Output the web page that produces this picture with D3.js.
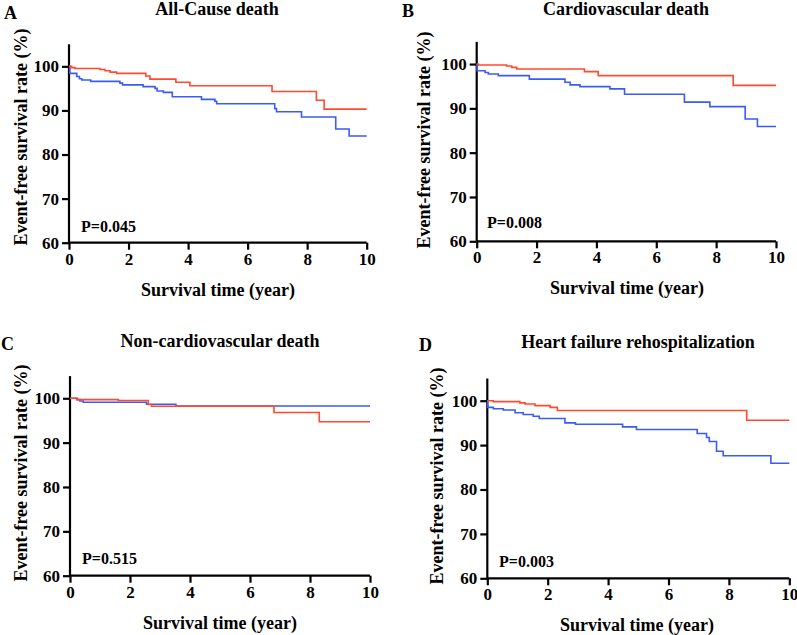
<!DOCTYPE html>
<html><head><meta charset="utf-8">
<script src="https://cdn.jsdelivr.net/npm/d3@7"></script>
<style>
html,body{margin:0;padding:0;background:#fff;}
svg text{font-family:"Liberation Serif","Times New Roman",serif;font-weight:bold;fill:#000;}
</style></head>
<body>
<svg id="chart" width="797" height="635"></svg>
<script>
// ---- data ----
const panelLetters = ["A","B","C","D"];
const panelTitles = ["All-Cause death","Cardiovascular death","Non-cardiovascular death","Heart failure rehospitalization"];
const pValues = ["P=0.045","P=0.008","P=0.515","P=0.003"];
const xTicks = [0,2,4,6,8,10];
const yTicks = [60,70,80,90,100];
const xTitle = "Survival time (year)";
const yTitle = "Event-free survival rate (%)";

const timeA_red  = [0,0.09,0.2,1.04,1.21,1.38,1.6,2.58,2.72,3.59,4.06,6.82,8.31,8.57,10];
const survA_red  = [100,99.7,99.5,99.3,99.0,98.7,98.4,97.8,97.1,96.4,95.6,94.3,92.3,90.3,90.3];
const timeA_blue = [0,0.03,0.26,0.35,0.43,0.73,1.71,1.80,2.49,2.89,2.96,3.17,3.47,4.45,4.9,4.96,6.91,6.97,7.81,8.96,9.41,10];
const survA_blue = [100,98.4,97.7,97.2,96.9,96.6,96.2,95.8,95.4,95.0,94.4,94.1,93.1,92.5,92.1,91.5,90.4,89.7,88.5,85.8,84.2,84.2];

const timeB_red  = [0,0.06,1.0,1.17,1.34,3.6,4.06,8.57,10];
const survB_red  = [100,99.8,99.55,99.25,98.9,98.3,97.4,95.2,95.2];
const timeB_blue = [0,0.01,0.28,0.39,0.72,1.76,2.95,3.12,3.45,4.45,4.94,6.94,7.79,8.97,9.38,10];
const survB_blue = [100,98.5,98.1,97.75,97.4,96.6,95.9,95.3,94.9,94.4,93.2,91.4,90.4,87.6,85.9,85.9];

const timeC_red  = [0,0.22,1.61,2.61,2.72,6.8,8.31,10];
const survC_red  = [100,99.7,99.5,98.6,98.2,96.8,94.7,94.7];
const timeC_blue = [0,0.25,0.33,0.44,2.55,3.53,10];
const survC_blue = [100,99.7,99.4,99.1,98.65,98.25,98.25];

const timeD_red  = [0,0.2,1.08,1.25,1.58,2.08,2.32,8.59,10];
const survD_red  = [100,99.8,99.5,99.25,98.9,98.5,97.8,95.6,95.6];
const timeD_blue = [0,0.01,0.2,0.53,0.92,1.19,1.52,1.72,2.57,2.92,4.48,4.94,6.95,7.26,7.35,7.59,7.81,9.39,10];
const survD_blue = [100,98.5,98.2,97.9,97.3,96.9,96.5,96.0,95.0,94.7,94.1,93.5,92.6,91.7,90.8,88.6,87.6,85.9,85.9];

const redTimes = [timeA_red,timeB_red,timeC_red,timeD_red];
const redSurv = [survA_red,survB_red,survC_red,survD_red];
const blueTimes = [timeA_blue,timeB_blue,timeC_blue,timeD_blue];
const blueSurv = [survA_blue,survB_blue,survC_blue,survD_blue];

// ---- layout ----
const RED = "#ff4a2e", BLUE = "#3a5cf5";
const layouts = [
  {x0:69, x1:366.7, yb:242.7, yt:44.3, letter:[4,19], title:[217,15], ytitle:[21,137], xtitle:[218,296], p:[81,232]},
  {x0:476.7, x1:776, yb:241.3, yt:41.9, letter:[402,17], title:[626,15], ytitle:[424,140], xtitle:[627,294], p:[487,228]},
  {x0:70, x1:370, yb:575.7, yt:376.1, letter:[1,350], title:[220,347], ytitle:[21,473], xtitle:[220,629], p:[82,564]},
  {x0:487.3, x1:789.3, yb:578.3, yt:378.5, letter:[419,351], title:[638,348], ytitle:[437,476], xtitle:[637,631], p:[499,567]}
];

const svg = d3.select("#chart");

layouts.forEach((L,i)=>{
  const g = svg.append("g");
  const x = d3.scaleLinear().domain([0,10]).range([L.x0,L.x1]);
  const y = d3.scaleLinear().domain([60,105]).range([L.yb,L.yt]);

  const xAxis = d3.axisBottom(x).tickValues(xTicks).tickSize(7).tickPadding(3).tickFormat(d3.format("d"));
  const yAxis = d3.axisLeft(y).tickValues(yTicks).tickSize(7).tickPadding(3).tickFormat(d3.format("d"));

  const gx = g.append("g").attr("transform",`translate(0,${L.yb})`).call(xAxis);
  const gy = g.append("g").attr("transform",`translate(${L.x0},0)`).call(yAxis);
  [gx,gy].forEach(a=>{
    a.select(".domain").attr("stroke","#000").attr("stroke-width",2.2);
    a.selectAll(".tick line").attr("stroke","#000").attr("stroke-width",2.2);
    a.selectAll(".tick text").style("font-family","'Liberation Serif',serif").style("font-weight","bold").style("font-size","17px").attr("fill","#000");
  });
  gx.select(".domain").attr("d",`M${L.x0},0H${L.x1}`);
  gy.select(".domain").attr("d",`M0,${L.yb}V${L.yt}`);

  const line = d3.line().x(d=>x(d[0])).y(d=>y(d[1])).curve(d3.curveStepAfter);
  const blue = d3.zip(blueTimes[i], blueSurv[i]);
  const red = d3.zip(redTimes[i], redSurv[i]);
  g.append("path").datum(blue).attr("d",line).attr("fill","none").attr("stroke",BLUE).attr("stroke-width",1.6);
  g.append("path").datum(red).attr("d",line).attr("fill","none").attr("stroke",RED).attr("stroke-width",1.6);

  g.append("text").attr("x",L.letter[0]).attr("y",L.letter[1]).style("font-size","18px").text(panelLetters[i]);
  g.append("text").attr("x",L.title[0]).attr("y",L.title[1]).attr("text-anchor","middle").style("font-size","18px").text(panelTitles[i]);
  g.append("text").attr("transform",`translate(${L.ytitle[0]},${L.ytitle[1]}) rotate(-90)`).attr("text-anchor","middle").attr("dy","0.35em").style("font-size","18px").text(yTitle);
  g.append("text").attr("x",L.xtitle[0]).attr("y",L.xtitle[1]).attr("text-anchor","middle").style("font-size","18px").text(xTitle);
  g.append("text").attr("x",L.p[0]).attr("y",L.p[1]).style("font-size","16px").text(pValues[i]);
});
</script>
</body></html>
